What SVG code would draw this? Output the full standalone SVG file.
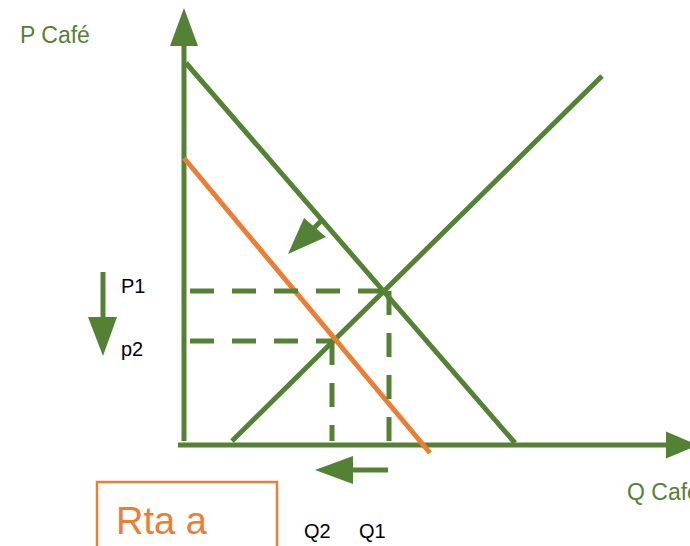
<svg xmlns="http://www.w3.org/2000/svg" width="690" height="546" viewBox="0 0 690 546">
<style>
.g{stroke:#548235;stroke-width:5;fill:none}
.o{stroke:#ED7D31;stroke-width:5;fill:none}
.d{stroke:#548235;stroke-width:5;fill:none;stroke-dasharray:24 18}
.hg{fill:#548235}
.tg{font-family:"Liberation Sans",Arial,sans-serif;fill:#548235;font-size:23px}
.tk{font-family:"Liberation Sans",Arial,sans-serif;fill:#000;font-size:20px}
</style>
<rect width="690" height="546" fill="#fff"/>
<g id="axes">
<line class="g" x1="184" y1="441" x2="184" y2="44"/>
<polygon class="hg" points="184,8 170,46 198,46"/>
<line class="g" x1="178" y1="445" x2="668" y2="445"/>
<polygon class="hg" points="698,445 666,431.5 666,458.5"/>
</g>
<g id="connectors">
<line id="demand" class="g" x1="186" y1="63" x2="515" y2="443"/>
<line id="supply" class="g" x1="232" y1="441" x2="602" y2="76"/>
<line id="demand2" class="o" x1="184" y1="158" x2="430" y2="453"/>
<line class="d" x1="190" y1="291" x2="385" y2="291"/>
<line class="d" x1="190" y1="341" x2="332" y2="341"/>
<line class="d" x1="389" y1="291" x2="389" y2="441"/>
<line class="d" x1="332" y1="341" x2="332" y2="441"/>
<line class="g" x1="321" y1="221" x2="312" y2="230"/>
<polygon class="hg" points="288,254 304,218 326,237"/>
<line class="g" x1="103" y1="272" x2="103" y2="320"/>
<polygon class="hg" points="103,356 88,317 117,317"/>
<line class="g" x1="388" y1="470" x2="350" y2="470"/>
<polygon class="hg" points="315,470 353,456 353,484"/>
</g>
<g id="labels">
<text class="tg" x="20" y="43">P Café</text>
<text class="tg" x="627" y="500">Q Café</text>
<text class="tk" x="121" y="293">P1</text>
<text class="tk" x="121" y="356">p2</text>
<text class="tk" x="304" y="538">Q2</text>
<text class="tk" x="359" y="538">Q1</text>
</g>
<g id="answer">
<rect x="97" y="482" width="180" height="80" fill="none" stroke="#ED7D31" stroke-width="2.5"/>
<text x="116" y="534" font-family="Liberation Sans, Arial, sans-serif" font-size="38" fill="#ED7D31">Rta a</text>
</g>
</svg>
